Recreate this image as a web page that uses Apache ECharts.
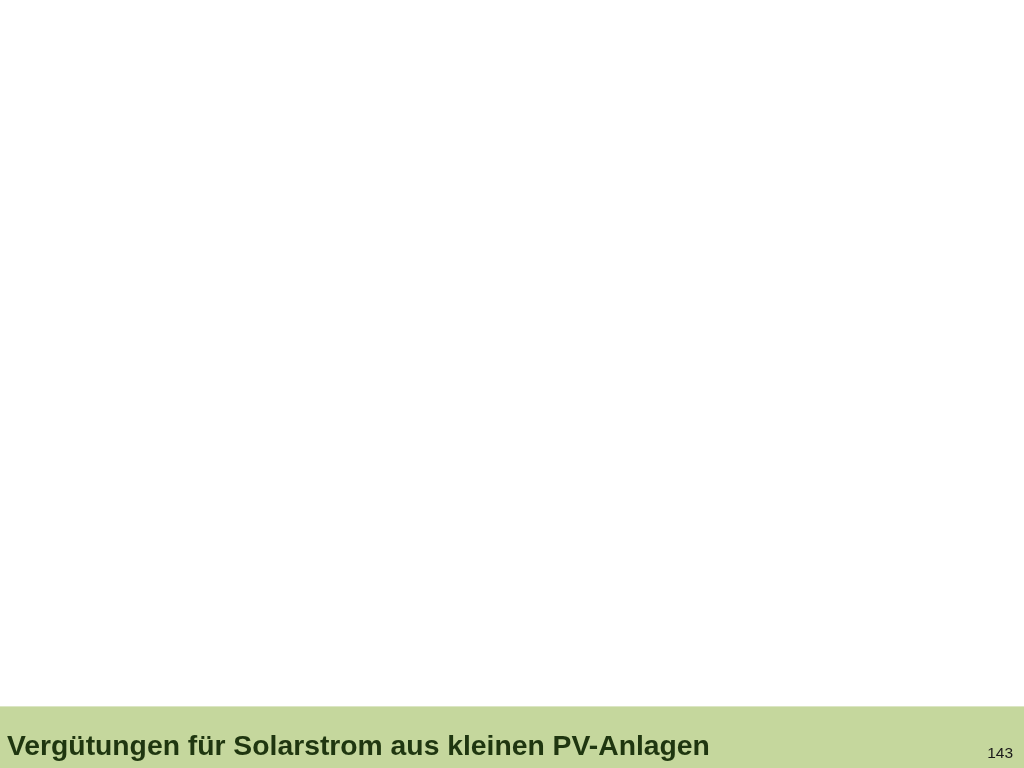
<!DOCTYPE html>
<html>
<head>
<meta charset="utf-8">
<script src="https://cdn.jsdelivr.net/npm/echarts@6/dist/echarts.min.js"></script>
<style>
html,body{margin:0;padding:0;background:#ffffff;}
#chart{width:1024px;height:768px;}
</style>
</head>
<body>
<div id="chart"></div>
<script>
// The slide shows no plotted data: only the footer title and page number.
const footerTitle = 'Vergütungen für Solarstrom aus kleinen PV-Anlagen';
const pageNumber = '143';
const categories = [];
const values = [];

const chart = echarts.init(document.getElementById('chart'), null, {renderer: 'canvas'});
chart.setOption({
  backgroundColor: '#ffffff',
  animation: false,
  title: [
    {
      text: footerTitle,
      left: 2,
      top: 728,
      textStyle: {fontFamily: 'Liberation Sans, Arial, sans-serif', fontWeight: 'bold', fontSize: 28.3, color: '#1f3610'}
    },
    {
      text: pageNumber,
      right: 6,
      top: 741,
      textStyle: {fontFamily: 'Liberation Sans, Arial, sans-serif', fontWeight: 'normal', fontSize: 15.5, color: '#1a1a1a'}
    }
  ],
  grid: {show: false, left: 0, right: 0, top: 0, bottom: 62},
  xAxis: {type: 'category', data: categories, show: false},
  yAxis: {type: 'value', show: false},
  series: [{type: 'bar', data: values}],
  graphic: [
    {type: 'rect', z: -1, shape: {x: 0, y: 706, width: 1024, height: 62}, style: {fill: '#c5d79d'}},
    {type: 'rect', z: -1, shape: {x: 0, y: 706, width: 1024, height: 1}, style: {fill: '#dbe6c4'}}
  ]
});
</script>
</body>
</html>
